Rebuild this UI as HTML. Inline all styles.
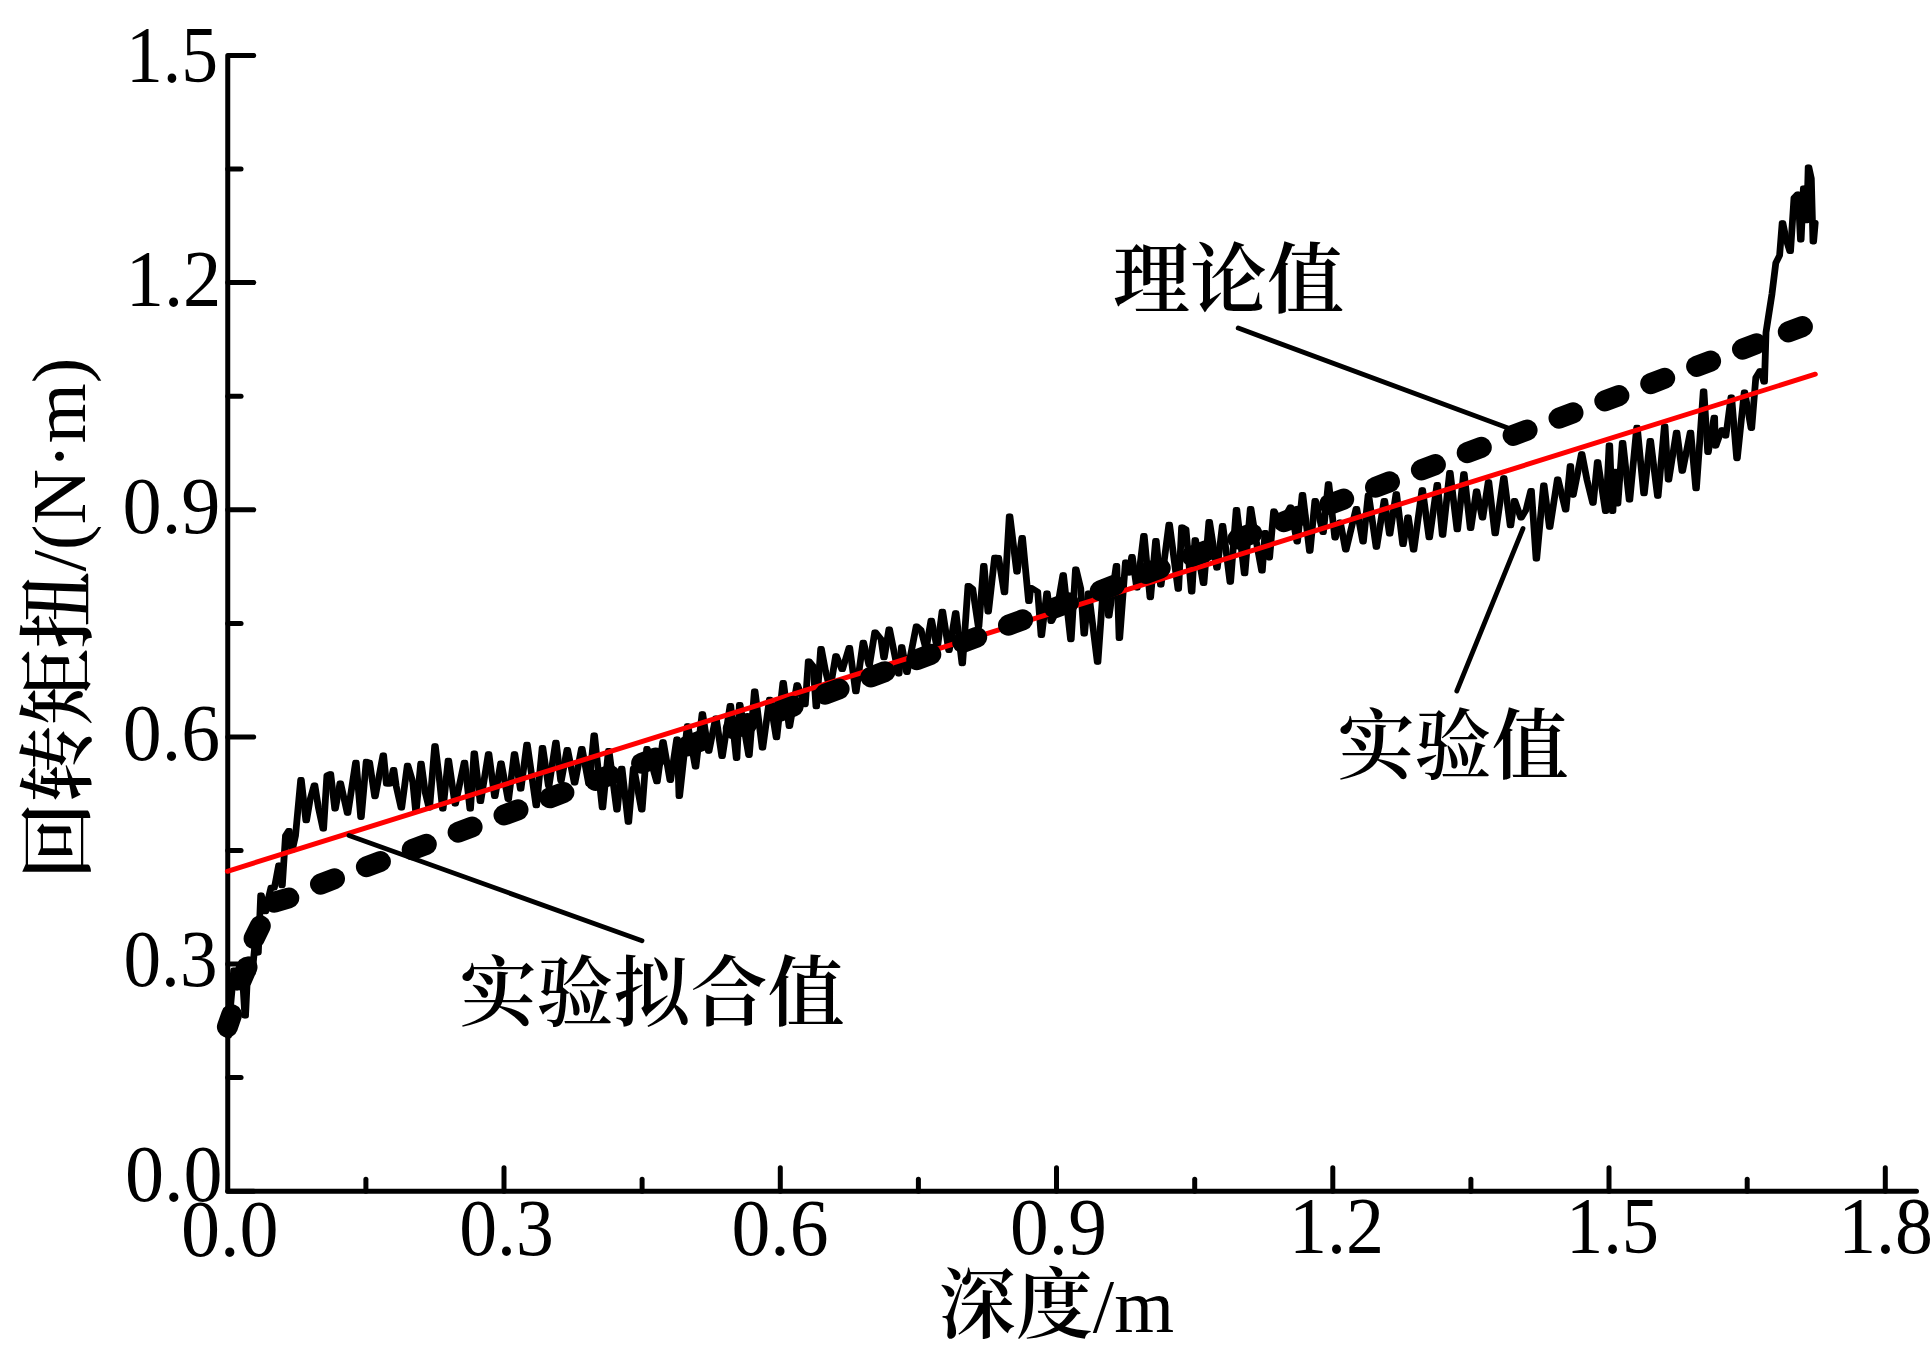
<!DOCTYPE html>
<html><head><meta charset="utf-8"><title>chart</title>
<style>html,body{margin:0;padding:0;background:#fff;overflow:hidden}svg{display:block}</style>
</head><body>
<svg width="1932" height="1353" viewBox="0 0 1932 1353"><rect width="1932" height="1353" fill="#fff"/><g stroke="#000" stroke-width="5" stroke-linecap="round" stroke-linejoin="round" fill="none"><path d="M253.75 55.5 H227.75 V1191.2 H1916.5"/><path d="M227.75 1191.2 h26"/><path d="M227.75 964.1 h26"/><path d="M227.75 736.9 h26"/><path d="M227.75 509.8 h26"/><path d="M227.75 282.6 h26"/><path d="M227.75 1077.6 h13.3"/><path d="M227.75 850.5 h13.3"/><path d="M227.75 623.4 h13.3"/><path d="M227.75 396.2 h13.3"/><path d="M227.75 169.1 h13.3"/><path d="M504.0 1191.2 v-23.4"/><path d="M780.3 1191.2 v-23.4"/><path d="M1056.5 1191.2 v-23.4"/><path d="M1332.8 1191.2 v-23.4"/><path d="M1609.0 1191.2 v-23.4"/><path d="M1885.3 1191.2 v-23.4"/><path d="M365.9 1191.2 v-12"/><path d="M642.1 1191.2 v-12"/><path d="M918.4 1191.2 v-12"/><path d="M1194.7 1191.2 v-12"/><path d="M1470.9 1191.2 v-12"/><path d="M1747.2 1191.2 v-12"/></g><g fill="none" stroke="#000" stroke-width="5.2" stroke-linejoin="round" stroke-linecap="round"><path id="dp" transform="translate(-0.8 0)" d="M228.5 1036.0 L230.0 1012.0 L232.0 990.0 L233.7 970.0 L234.3 970.0 L236.7 988.0 L237.3 988.0 L239.7 967.0 L240.3 967.0 L243.0 985.0 L244.9 1016.0 L245.5 1016.0 L247.0 985.0 L248.7 959.0 L249.3 959.0 L251.7 973.0 L252.3 973.0 L254.7 947.0 L255.3 947.0 L257.7 953.0 L258.3 953.0 L260.7 895.0 L261.3 895.0 L265.1 911.7 L265.7 911.7 L268.0 900.0 L271.0 887.4 L271.6 887.4 L273.7 888.0 L274.3 888.0 L276.0 879.4 L278.7 865.0 L279.3 865.0 L281.7 885.7 L282.3 885.7 L285.5 835.7 L288.7 830.6 L289.3 830.6 L291.7 850.2 L292.3 850.2 L295.5 835.7 L300.7 779.7 L301.3 779.7 L305.9 820.7 L306.5 820.7 L310.0 800.0 L314.2 785.0 L314.8 785.0 L318.5 808.0 L323.0 829.0 L323.6 829.0 L326.9 775.4 L330.1 773.8 L330.7 773.8 L334.8 808.9 L335.4 808.9 L340.0 783.0 L340.6 783.0 L347.3 813.2 L347.9 813.2 L355.6 762.3 L356.2 762.3 L360.7 817.3 L361.3 817.3 L366.2 761.4 L369.0 762.3 L369.6 762.3 L374.7 796.6 L375.3 796.6 L383.0 755.1 L383.6 755.1 L386.4 784.0 L389.7 784.0 L390.3 784.0 L393.3 769.6 L393.9 769.6 L396.2 786.2 L401.1 808.0 L401.7 808.0 L407.3 765.4 L407.9 765.4 L412.8 782.0 L415.6 811.1 L416.2 811.1 L420.7 763.4 L421.3 763.4 L425.2 792.4 L429.0 808.0 L429.6 808.0 L434.7 745.8 L435.3 745.8 L439.7 782.0 L442.5 809.0 L443.1 809.0 L448.1 760.3 L448.7 760.3 L454.9 803.9 L455.5 803.9 L464.2 762.3 L464.8 762.3 L469.9 809.0 L470.5 809.0 L474.0 753.0 L474.6 753.0 L480.1 801.5 L480.7 801.5 L488.3 753.8 L488.9 753.8 L494.5 796.3 L495.1 796.3 L500.7 763.0 L501.3 763.0 L508.0 799.4 L508.6 799.4 L514.2 753.8 L514.8 753.8 L520.4 789.0 L521.0 789.0 L526.7 744.4 L527.3 744.4 L536.0 805.7 L536.6 805.7 L542.2 747.5 L542.8 747.5 L548.4 786.0 L549.0 786.0 L555.6 742.4 L556.2 742.4 L560.7 780.8 L561.3 780.8 L567.0 749.6 L567.6 749.6 L574.3 783.0 L574.9 783.0 L581.5 748.6 L582.1 748.6 L588.7 784.0 L589.3 784.0 L593.9 735.0 L594.5 735.0 L602.2 807.7 L602.8 807.7 L608.4 750.7 L609.0 750.7 L616.7 809.8 L617.3 809.8 L621.4 768.3 L622.0 768.3 L628.1 822.2 L628.7 822.2 L633.3 768.3 L633.9 768.3 L641.5 809.8 L642.1 809.8 L646.7 748.6 L647.3 748.6 L656.7 781.7 L657.3 781.7 L662.7 741.8 L663.3 741.8 L670.0 780.3 L670.6 780.3 L676.7 739.1 L677.3 739.1 L679.0 796.3 L679.6 796.3 L683.0 765.0 L687.3 725.8 L687.9 725.8 L695.3 767.0 L695.9 767.0 L702.1 713.8 L702.7 713.8 L708.4 751.2 L709.0 751.2 L715.6 718.0 L716.2 718.0 L721.8 756.4 L722.4 756.4 L730.1 705.5 L730.7 705.5 L736.3 758.4 L736.9 758.4 L739.4 704.5 L740.0 704.5 L748.7 755.3 L749.3 755.3 L754.4 691.0 L755.0 691.0 L762.2 748.0 L762.8 748.0 L769.4 699.3 L770.0 699.3 L776.2 737.7 L776.8 737.7 L782.9 682.7 L783.5 682.7 L789.1 726.3 L789.7 726.3 L796.9 684.8 L797.5 684.8 L804.7 704.6 L805.3 704.6 L808.3 661.0 L808.9 661.0 L813.2 666.2 L816.0 706.7 L816.6 706.7 L820.7 648.6 L821.3 648.6 L825.6 671.4 L829.7 688.0 L830.3 688.0 L835.7 655.8 L836.3 655.8 L841.9 669.4 L842.5 669.4 L849.1 647.5 L849.7 647.5 L855.6 691.6 L856.2 691.6 L863.0 642.4 L863.6 642.4 L868.9 665.0 L869.5 665.0 L874.8 632.0 L875.4 632.0 L881.0 639.0 L883.7 657.6 L884.3 657.6 L888.9 629.1 L889.5 629.1 L898.5 673.9 L899.1 673.9 L901.4 646.9 L902.0 646.9 L906.6 672.4 L907.2 672.4 L916.2 626.2 L916.8 626.2 L921.0 630.0 L925.7 648.0 L926.3 648.0 L931.0 620.3 L931.6 620.3 L936.9 647.3 L937.5 647.3 L942.1 611.4 L942.7 611.4 L948.7 650.3 L949.3 650.3 L955.4 612.9 L956.0 612.9 L962.0 663.6 L962.6 663.6 L968.0 585.5 L968.6 585.5 L972.7 588.7 L978.3 626.6 L978.9 626.6 L983.5 565.6 L984.1 565.6 L987.9 611.8 L988.5 611.8 L994.6 557.4 L995.2 557.4 L998.6 557.6 L1004.2 592.6 L1004.8 592.6 L1009.3 516.0 L1009.9 516.0 L1016.7 571.9 L1017.3 571.9 L1021.9 537.5 L1022.5 537.5 L1028.6 601.5 L1029.2 601.5 L1030.7 587.7 L1031.3 587.7 L1037.7 591.6 L1041.1 635.5 L1041.7 635.5 L1046.7 593.0 L1047.3 593.0 L1050.9 621.4 L1051.5 621.4 L1057.0 610.0 L1062.9 574.9 L1063.5 574.9 L1070.6 639.7 L1071.2 639.7 L1075.5 569.2 L1076.1 569.2 L1080.7 588.3 L1083.9 634.0 L1084.5 634.0 L1088.2 593.0 L1088.8 593.0 L1097.3 662.2 L1097.9 662.2 L1103.6 581.9 L1104.2 581.9 L1108.5 615.8 L1109.1 615.8 L1116.2 565.7 L1116.8 565.7 L1119.1 638.3 L1119.7 638.3 L1125.4 562.2 L1126.0 562.2 L1128.7 573.0 L1129.3 573.0 L1131.7 556.6 L1132.3 556.6 L1136.7 588.0 L1137.3 588.0 L1143.6 535.5 L1144.2 535.5 L1150.0 597.6 L1150.6 597.6 L1155.6 540.5 L1156.2 540.5 L1160.5 584.9 L1161.1 584.9 L1168.9 524.3 L1169.5 524.3 L1178.0 589.1 L1178.6 589.1 L1181.6 527.1 L1182.2 527.1 L1186.0 529.3 L1191.4 591.9 L1192.0 591.9 L1194.9 539.8 L1195.5 539.8 L1203.3 583.5 L1203.9 583.5 L1208.9 521.5 L1209.5 521.5 L1216.7 568.0 L1217.3 568.0 L1222.3 525.7 L1222.9 525.7 L1230.0 582.1 L1230.6 582.1 L1236.2 509.5 L1236.8 509.5 L1244.3 573.7 L1244.9 573.7 L1250.3 508.5 L1250.9 508.5 L1256.0 540.0 L1261.7 571.0 L1262.3 571.0 L1265.0 532.5 L1265.6 532.5 L1269.0 557.8 L1269.6 557.8 L1273.6 511.2 L1274.2 511.2 L1281.6 525.8 L1282.2 525.8 L1286.0 515.0 L1290.2 507.2 L1290.8 507.2 L1296.9 541.8 L1297.5 541.8 L1302.2 494.6 L1302.8 494.6 L1309.5 551.1 L1310.1 551.1 L1314.9 500.5 L1315.5 500.5 L1322.8 532.5 L1323.4 532.5 L1328.2 483.9 L1328.8 483.9 L1334.8 537.8 L1335.4 537.8 L1339.7 522.0 L1340.3 522.0 L1345.5 549.8 L1346.1 549.8 L1356.1 508.5 L1356.7 508.5 L1362.8 541.8 L1363.4 541.8 L1368.1 495.2 L1368.7 495.2 L1376.1 547.1 L1376.7 547.1 L1384.1 500.5 L1384.7 500.5 L1389.4 533.8 L1390.0 533.8 L1396.0 493.9 L1396.6 493.9 L1402.7 544.5 L1403.3 544.5 L1407.7 517.0 L1408.3 517.0 L1413.3 549.8 L1413.9 549.8 L1422.0 489.9 L1422.6 489.9 L1429.0 537.7 L1429.6 537.7 L1437.0 484.5 L1437.6 484.5 L1442.3 535.1 L1442.9 535.1 L1449.6 472.5 L1450.2 472.5 L1457.0 529.7 L1457.6 529.7 L1463.6 473.9 L1464.2 473.9 L1470.3 528.4 L1470.9 528.4 L1476.3 491.2 L1476.9 491.2 L1482.2 517.8 L1482.8 517.8 L1488.2 481.8 L1488.8 481.8 L1494.9 533.7 L1495.5 533.7 L1503.5 477.8 L1504.1 477.8 L1510.2 525.7 L1510.8 525.7 L1514.2 500.5 L1514.8 500.5 L1520.8 517.8 L1521.4 517.8 L1526.0 510.0 L1530.8 490.5 L1531.4 490.5 L1536.1 559.0 L1536.7 559.0 L1543.5 485.2 L1544.1 485.2 L1549.4 527.1 L1550.0 527.1 L1557.4 479.2 L1558.0 479.2 L1565.4 509.8 L1566.0 509.8 L1570.1 465.9 L1570.7 465.9 L1572.7 495.1 L1573.3 495.1 L1581.4 453.9 L1582.0 453.9 L1587.0 480.0 L1592.7 503.1 L1593.3 503.1 L1597.3 461.9 L1597.9 461.9 L1605.4 511.3 L1606.0 511.3 L1609.1 445.0 L1609.7 445.0 L1612.3 511.3 L1612.9 511.3 L1614.7 471.3 L1615.3 471.3 L1617.3 503.8 L1617.9 503.8 L1622.3 442.5 L1622.9 442.5 L1629.2 500.0 L1629.8 500.0 L1636.7 427.4 L1637.3 427.4 L1643.7 493.7 L1644.3 493.7 L1650.0 440.6 L1650.6 440.6 L1657.5 496.2 L1658.1 496.2 L1664.4 426.1 L1665.0 426.1 L1668.2 479.9 L1668.8 479.9 L1676.3 432.4 L1676.9 432.4 L1682.0 471.1 L1682.6 471.1 L1690.2 432.4 L1690.8 432.4 L1695.8 488.7 L1696.4 488.7 L1703.3 391.0 L1703.9 391.0 L1707.7 452.3 L1708.3 452.3 L1714.0 417.3 L1714.6 417.3 L1715.3 446.0 L1715.9 446.0 L1721.6 429.9 L1722.2 429.9 L1725.3 436.0 L1725.9 436.0 L1731.0 397.2 L1731.6 397.2 L1736.7 458.6 L1737.3 458.6 L1744.2 392.2 L1744.8 392.2 L1751.1 428.4 L1751.7 428.4 L1755.8 377.6 L1759.9 370.8 L1760.5 370.8 L1763.9 382.0 L1764.5 382.0 L1766.0 332.3 L1769.0 313.0 L1772.0 293.8 L1775.8 263.0 L1779.6 255.4 L1782.2 222.8 L1782.8 222.8 L1786.3 240.0 L1789.9 251.5 L1790.5 251.5 L1794.0 197.7 L1797.6 194.0 L1798.2 194.0 L1800.5 240.0 L1801.1 240.0 L1803.4 188.2 L1804.0 188.2 L1806.2 220.7 L1806.8 220.7 L1808.2 167.0 L1808.8 167.0 L1811.3 178.5 L1813.0 241.8 L1813.6 241.8 L1815.2 222.7"/><path transform="translate(0.8 0)" d="M228.5 1036.0 L230.0 1012.0 L232.0 990.0 L233.7 970.0 L234.3 970.0 L236.7 988.0 L237.3 988.0 L239.7 967.0 L240.3 967.0 L243.0 985.0 L244.9 1016.0 L245.5 1016.0 L247.0 985.0 L248.7 959.0 L249.3 959.0 L251.7 973.0 L252.3 973.0 L254.7 947.0 L255.3 947.0 L257.7 953.0 L258.3 953.0 L260.7 895.0 L261.3 895.0 L265.1 911.7 L265.7 911.7 L268.0 900.0 L271.0 887.4 L271.6 887.4 L273.7 888.0 L274.3 888.0 L276.0 879.4 L278.7 865.0 L279.3 865.0 L281.7 885.7 L282.3 885.7 L285.5 835.7 L288.7 830.6 L289.3 830.6 L291.7 850.2 L292.3 850.2 L295.5 835.7 L300.7 779.7 L301.3 779.7 L305.9 820.7 L306.5 820.7 L310.0 800.0 L314.2 785.0 L314.8 785.0 L318.5 808.0 L323.0 829.0 L323.6 829.0 L326.9 775.4 L330.1 773.8 L330.7 773.8 L334.8 808.9 L335.4 808.9 L340.0 783.0 L340.6 783.0 L347.3 813.2 L347.9 813.2 L355.6 762.3 L356.2 762.3 L360.7 817.3 L361.3 817.3 L366.2 761.4 L369.0 762.3 L369.6 762.3 L374.7 796.6 L375.3 796.6 L383.0 755.1 L383.6 755.1 L386.4 784.0 L389.7 784.0 L390.3 784.0 L393.3 769.6 L393.9 769.6 L396.2 786.2 L401.1 808.0 L401.7 808.0 L407.3 765.4 L407.9 765.4 L412.8 782.0 L415.6 811.1 L416.2 811.1 L420.7 763.4 L421.3 763.4 L425.2 792.4 L429.0 808.0 L429.6 808.0 L434.7 745.8 L435.3 745.8 L439.7 782.0 L442.5 809.0 L443.1 809.0 L448.1 760.3 L448.7 760.3 L454.9 803.9 L455.5 803.9 L464.2 762.3 L464.8 762.3 L469.9 809.0 L470.5 809.0 L474.0 753.0 L474.6 753.0 L480.1 801.5 L480.7 801.5 L488.3 753.8 L488.9 753.8 L494.5 796.3 L495.1 796.3 L500.7 763.0 L501.3 763.0 L508.0 799.4 L508.6 799.4 L514.2 753.8 L514.8 753.8 L520.4 789.0 L521.0 789.0 L526.7 744.4 L527.3 744.4 L536.0 805.7 L536.6 805.7 L542.2 747.5 L542.8 747.5 L548.4 786.0 L549.0 786.0 L555.6 742.4 L556.2 742.4 L560.7 780.8 L561.3 780.8 L567.0 749.6 L567.6 749.6 L574.3 783.0 L574.9 783.0 L581.5 748.6 L582.1 748.6 L588.7 784.0 L589.3 784.0 L593.9 735.0 L594.5 735.0 L602.2 807.7 L602.8 807.7 L608.4 750.7 L609.0 750.7 L616.7 809.8 L617.3 809.8 L621.4 768.3 L622.0 768.3 L628.1 822.2 L628.7 822.2 L633.3 768.3 L633.9 768.3 L641.5 809.8 L642.1 809.8 L646.7 748.6 L647.3 748.6 L656.7 781.7 L657.3 781.7 L662.7 741.8 L663.3 741.8 L670.0 780.3 L670.6 780.3 L676.7 739.1 L677.3 739.1 L679.0 796.3 L679.6 796.3 L683.0 765.0 L687.3 725.8 L687.9 725.8 L695.3 767.0 L695.9 767.0 L702.1 713.8 L702.7 713.8 L708.4 751.2 L709.0 751.2 L715.6 718.0 L716.2 718.0 L721.8 756.4 L722.4 756.4 L730.1 705.5 L730.7 705.5 L736.3 758.4 L736.9 758.4 L739.4 704.5 L740.0 704.5 L748.7 755.3 L749.3 755.3 L754.4 691.0 L755.0 691.0 L762.2 748.0 L762.8 748.0 L769.4 699.3 L770.0 699.3 L776.2 737.7 L776.8 737.7 L782.9 682.7 L783.5 682.7 L789.1 726.3 L789.7 726.3 L796.9 684.8 L797.5 684.8 L804.7 704.6 L805.3 704.6 L808.3 661.0 L808.9 661.0 L813.2 666.2 L816.0 706.7 L816.6 706.7 L820.7 648.6 L821.3 648.6 L825.6 671.4 L829.7 688.0 L830.3 688.0 L835.7 655.8 L836.3 655.8 L841.9 669.4 L842.5 669.4 L849.1 647.5 L849.7 647.5 L855.6 691.6 L856.2 691.6 L863.0 642.4 L863.6 642.4 L868.9 665.0 L869.5 665.0 L874.8 632.0 L875.4 632.0 L881.0 639.0 L883.7 657.6 L884.3 657.6 L888.9 629.1 L889.5 629.1 L898.5 673.9 L899.1 673.9 L901.4 646.9 L902.0 646.9 L906.6 672.4 L907.2 672.4 L916.2 626.2 L916.8 626.2 L921.0 630.0 L925.7 648.0 L926.3 648.0 L931.0 620.3 L931.6 620.3 L936.9 647.3 L937.5 647.3 L942.1 611.4 L942.7 611.4 L948.7 650.3 L949.3 650.3 L955.4 612.9 L956.0 612.9 L962.0 663.6 L962.6 663.6 L968.0 585.5 L968.6 585.5 L972.7 588.7 L978.3 626.6 L978.9 626.6 L983.5 565.6 L984.1 565.6 L987.9 611.8 L988.5 611.8 L994.6 557.4 L995.2 557.4 L998.6 557.6 L1004.2 592.6 L1004.8 592.6 L1009.3 516.0 L1009.9 516.0 L1016.7 571.9 L1017.3 571.9 L1021.9 537.5 L1022.5 537.5 L1028.6 601.5 L1029.2 601.5 L1030.7 587.7 L1031.3 587.7 L1037.7 591.6 L1041.1 635.5 L1041.7 635.5 L1046.7 593.0 L1047.3 593.0 L1050.9 621.4 L1051.5 621.4 L1057.0 610.0 L1062.9 574.9 L1063.5 574.9 L1070.6 639.7 L1071.2 639.7 L1075.5 569.2 L1076.1 569.2 L1080.7 588.3 L1083.9 634.0 L1084.5 634.0 L1088.2 593.0 L1088.8 593.0 L1097.3 662.2 L1097.9 662.2 L1103.6 581.9 L1104.2 581.9 L1108.5 615.8 L1109.1 615.8 L1116.2 565.7 L1116.8 565.7 L1119.1 638.3 L1119.7 638.3 L1125.4 562.2 L1126.0 562.2 L1128.7 573.0 L1129.3 573.0 L1131.7 556.6 L1132.3 556.6 L1136.7 588.0 L1137.3 588.0 L1143.6 535.5 L1144.2 535.5 L1150.0 597.6 L1150.6 597.6 L1155.6 540.5 L1156.2 540.5 L1160.5 584.9 L1161.1 584.9 L1168.9 524.3 L1169.5 524.3 L1178.0 589.1 L1178.6 589.1 L1181.6 527.1 L1182.2 527.1 L1186.0 529.3 L1191.4 591.9 L1192.0 591.9 L1194.9 539.8 L1195.5 539.8 L1203.3 583.5 L1203.9 583.5 L1208.9 521.5 L1209.5 521.5 L1216.7 568.0 L1217.3 568.0 L1222.3 525.7 L1222.9 525.7 L1230.0 582.1 L1230.6 582.1 L1236.2 509.5 L1236.8 509.5 L1244.3 573.7 L1244.9 573.7 L1250.3 508.5 L1250.9 508.5 L1256.0 540.0 L1261.7 571.0 L1262.3 571.0 L1265.0 532.5 L1265.6 532.5 L1269.0 557.8 L1269.6 557.8 L1273.6 511.2 L1274.2 511.2 L1281.6 525.8 L1282.2 525.8 L1286.0 515.0 L1290.2 507.2 L1290.8 507.2 L1296.9 541.8 L1297.5 541.8 L1302.2 494.6 L1302.8 494.6 L1309.5 551.1 L1310.1 551.1 L1314.9 500.5 L1315.5 500.5 L1322.8 532.5 L1323.4 532.5 L1328.2 483.9 L1328.8 483.9 L1334.8 537.8 L1335.4 537.8 L1339.7 522.0 L1340.3 522.0 L1345.5 549.8 L1346.1 549.8 L1356.1 508.5 L1356.7 508.5 L1362.8 541.8 L1363.4 541.8 L1368.1 495.2 L1368.7 495.2 L1376.1 547.1 L1376.7 547.1 L1384.1 500.5 L1384.7 500.5 L1389.4 533.8 L1390.0 533.8 L1396.0 493.9 L1396.6 493.9 L1402.7 544.5 L1403.3 544.5 L1407.7 517.0 L1408.3 517.0 L1413.3 549.8 L1413.9 549.8 L1422.0 489.9 L1422.6 489.9 L1429.0 537.7 L1429.6 537.7 L1437.0 484.5 L1437.6 484.5 L1442.3 535.1 L1442.9 535.1 L1449.6 472.5 L1450.2 472.5 L1457.0 529.7 L1457.6 529.7 L1463.6 473.9 L1464.2 473.9 L1470.3 528.4 L1470.9 528.4 L1476.3 491.2 L1476.9 491.2 L1482.2 517.8 L1482.8 517.8 L1488.2 481.8 L1488.8 481.8 L1494.9 533.7 L1495.5 533.7 L1503.5 477.8 L1504.1 477.8 L1510.2 525.7 L1510.8 525.7 L1514.2 500.5 L1514.8 500.5 L1520.8 517.8 L1521.4 517.8 L1526.0 510.0 L1530.8 490.5 L1531.4 490.5 L1536.1 559.0 L1536.7 559.0 L1543.5 485.2 L1544.1 485.2 L1549.4 527.1 L1550.0 527.1 L1557.4 479.2 L1558.0 479.2 L1565.4 509.8 L1566.0 509.8 L1570.1 465.9 L1570.7 465.9 L1572.7 495.1 L1573.3 495.1 L1581.4 453.9 L1582.0 453.9 L1587.0 480.0 L1592.7 503.1 L1593.3 503.1 L1597.3 461.9 L1597.9 461.9 L1605.4 511.3 L1606.0 511.3 L1609.1 445.0 L1609.7 445.0 L1612.3 511.3 L1612.9 511.3 L1614.7 471.3 L1615.3 471.3 L1617.3 503.8 L1617.9 503.8 L1622.3 442.5 L1622.9 442.5 L1629.2 500.0 L1629.8 500.0 L1636.7 427.4 L1637.3 427.4 L1643.7 493.7 L1644.3 493.7 L1650.0 440.6 L1650.6 440.6 L1657.5 496.2 L1658.1 496.2 L1664.4 426.1 L1665.0 426.1 L1668.2 479.9 L1668.8 479.9 L1676.3 432.4 L1676.9 432.4 L1682.0 471.1 L1682.6 471.1 L1690.2 432.4 L1690.8 432.4 L1695.8 488.7 L1696.4 488.7 L1703.3 391.0 L1703.9 391.0 L1707.7 452.3 L1708.3 452.3 L1714.0 417.3 L1714.6 417.3 L1715.3 446.0 L1715.9 446.0 L1721.6 429.9 L1722.2 429.9 L1725.3 436.0 L1725.9 436.0 L1731.0 397.2 L1731.6 397.2 L1736.7 458.6 L1737.3 458.6 L1744.2 392.2 L1744.8 392.2 L1751.1 428.4 L1751.7 428.4 L1755.8 377.6 L1759.9 370.8 L1760.5 370.8 L1763.9 382.0 L1764.5 382.0 L1766.0 332.3 L1769.0 313.0 L1772.0 293.8 L1775.8 263.0 L1779.6 255.4 L1782.2 222.8 L1782.8 222.8 L1786.3 240.0 L1789.9 251.5 L1790.5 251.5 L1794.0 197.7 L1797.6 194.0 L1798.2 194.0 L1800.5 240.0 L1801.1 240.0 L1803.4 188.2 L1804.0 188.2 L1806.2 220.7 L1806.8 220.7 L1808.2 167.0 L1808.8 167.0 L1811.3 178.5 L1813.0 241.8 L1813.6 241.8 L1815.2 222.7"/></g><line x1="227.4" y1="871.3" x2="1815.3" y2="374.2" stroke="#f00" stroke-width="5" stroke-linecap="round"/><path d="M227.4 1027.0L231.6 1014.8M241.4 980.0L247.0 967.2M254.1 938.5L260.3 925.9M274.4 902.2L288.8 898.0M320.5 884.1L334.5 878.8M366.4 866.8L380.4 861.5M412.2 849.6L426.3 844.3M458.1 832.3L472.1 827.0M504.0 815.0L518.0 809.8M549.8 797.8L563.9 792.5M595.7 780.5L609.7 775.2M641.6 763.3L655.6 758.0M687.4 746.0L701.5 740.7M733.3 728.8L747.3 723.5M779.2 711.5L793.2 706.2M825.1 694.2L839.1 689.0M870.9 677.0L885.0 671.7M916.8 659.7L930.8 654.4M962.7 642.5L976.7 637.2M1008.5 625.2L1022.6 619.9M1054.4 608.0L1068.4 602.7M1100.3 590.7L1114.3 585.4M1146.1 573.4L1160.2 568.2M1192.0 556.2L1206.0 550.9M1237.9 538.9L1251.9 533.7M1283.8 521.7L1297.8 516.4M1329.6 504.4L1343.7 499.1M1375.5 487.2L1389.5 481.9M1421.4 469.9L1435.4 464.6M1467.2 452.7L1481.3 447.4M1513.1 435.4L1527.1 430.1M1559.0 418.1L1573.0 412.9M1604.8 400.9L1618.9 395.6M1650.7 383.6L1664.7 378.3M1696.6 366.4L1710.6 361.1M1742.5 349.1L1756.5 343.8M1788.3 331.9L1802.4 326.6" fill="none" stroke="#000" stroke-width="21" stroke-linecap="round"/><g stroke="#000" stroke-width="4.8" stroke-linecap="round"><line x1="1238.2" y1="328.1" x2="1508" y2="428"/><line x1="1456.8" y1="691" x2="1523" y2="528.5"/><line x1="349" y1="835.4" x2="642" y2="940.8"/></g><g fill="#000"><text x="172.0" y="82.0" text-anchor="middle" font-size="80" textLength="92.0" lengthAdjust="spacingAndGlyphs" font-family='"Liberation Serif", serif'>1.5</text><text x="173.5" y="305.5" text-anchor="middle" font-size="80" textLength="95.6" lengthAdjust="spacingAndGlyphs" font-family='"Liberation Serif", serif'>1.2</text><text x="171.5" y="533.0" text-anchor="middle" font-size="80" textLength="97.9" lengthAdjust="spacingAndGlyphs" font-family='"Liberation Serif", serif'>0.9</text><text x="171.5" y="760.0" text-anchor="middle" font-size="80" textLength="97.4" lengthAdjust="spacingAndGlyphs" font-family='"Liberation Serif", serif'>0.6</text><text x="170.5" y="985.5" text-anchor="middle" font-size="80" textLength="94.0" lengthAdjust="spacingAndGlyphs" font-family='"Liberation Serif", serif'>0.3</text><text x="173.8" y="1200.5" text-anchor="middle" font-size="80" textLength="97.7" lengthAdjust="spacingAndGlyphs" font-family='"Liberation Serif", serif'>0.0</text><text x="229.8" y="1255.5" text-anchor="middle" font-size="80" textLength="97.7" lengthAdjust="spacingAndGlyphs" font-family='"Liberation Serif", serif'>0.0</text><text x="506.5" y="1254.5" text-anchor="middle" font-size="80" textLength="94.6" lengthAdjust="spacingAndGlyphs" font-family='"Liberation Serif", serif'>0.3</text><text x="780.0" y="1254.5" text-anchor="middle" font-size="80" textLength="97.2" lengthAdjust="spacingAndGlyphs" font-family='"Liberation Serif", serif'>0.6</text><text x="1058.5" y="1253.5" text-anchor="middle" font-size="80" textLength="96.8" lengthAdjust="spacingAndGlyphs" font-family='"Liberation Serif", serif'>0.9</text><text x="1336.5" y="1253.0" text-anchor="middle" font-size="80" textLength="95.1" lengthAdjust="spacingAndGlyphs" font-family='"Liberation Serif", serif'>1.2</text><text x="1612.5" y="1253.0" text-anchor="middle" font-size="80" textLength="93.1" lengthAdjust="spacingAndGlyphs" font-family='"Liberation Serif", serif'>1.5</text><text x="1885.5" y="1253.0" text-anchor="middle" font-size="80" textLength="94.7" lengthAdjust="spacingAndGlyphs" font-family='"Liberation Serif", serif'>1.8</text><text x="1113.0" y="307.0" text-anchor="start" font-size="77" font-family='"Liberation Serif", "Noto Serif CJK SC", serif' font-weight="600">理论值</text><text x="1337.5" y="772.6" text-anchor="start" font-size="77" font-family='"Liberation Serif", "Noto Serif CJK SC", serif' font-weight="600">实验值</text><text x="459.6" y="1020.2" text-anchor="start" font-size="77" font-family='"Liberation Serif", "Noto Serif CJK SC", serif' font-weight="600">实验拟合值</text><text x="1056.5" y="1332.2" text-anchor="middle" font-size="77" ><tspan font-family='"Liberation Serif", "Noto Serif CJK SC", serif' font-weight="600">深度</tspan><tspan font-family='"Liberation Serif", serif' font-weight="400">/m</tspan></text><text transform="translate(84.9 618.6) rotate(-90)" text-anchor="middle" font-size="77"><tspan font-family='"Liberation Serif", "Noto Serif CJK SC", serif' font-weight="600">回转矩扭</tspan><tspan font-family='"Liberation Serif", serif' font-weight="400">/(N·m)</tspan></text></g></svg>
</body></html>
